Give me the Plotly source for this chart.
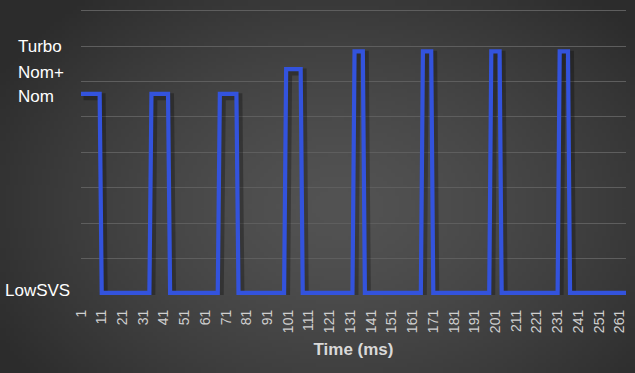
import base64, struct, zlib
import numpy as np
import plotly.graph_objects as go

# ---- data -------------------------------------------------------------
LOW, NOM, NOMP, TURBO = 0.04, 5.65, 6.35, 6.85
level_names = ["Turbo", "Nom+", "Nom", "LowSVS"]

# (first ms, last ms, level) segments of the step signal
segments = [
    (1, 10, NOM), (11, 34, LOW), (35, 43, NOM), (44, 67, LOW),
    (68, 76, NOM), (77, 99, LOW), (100, 107, NOMP), (108, 132, LOW),
    (133, 137, TURBO), (138, 165, LOW), (166, 170, TURBO), (171, 198, LOW),
    (199, 203, TURBO), (204, 231, LOW), (232, 236, TURBO), (237, 264, LOW),
]
time_ms = []
level = []
for a, b, v in segments:
    for t in range(a, b + 1):
        time_ms.append(t)
        level.append(v)
tick_vals = list(range(1, 262, 10))
tick_text = [str(v) for v in tick_vals]

# ---- background gradient png ----------------------------------------
W, H = 635, 373
L, R, T, B = 81, 9.4, 7.0, 78.0
pw, ph = W - L - R, H - T - B

gw, gh = 160, 94
yy, xx = np.mgrid[0:gh, 0:gw]
cx, cy = gw * 0.53, gh * 0.55
d = np.sqrt(((xx - cx) / (gw * 0.62)) ** 2 + ((yy - cy) / (gh * 0.75)) ** 2)
d = np.clip(d, 0, 1)
val = (0x53 - (0x53 - 0x2c) * d ** 1.4).astype(np.uint8)
img = np.stack([val, val, val], axis=-1)
raw = b"".join(b"\x00" + img[r].tobytes() for r in range(gh))

def chunk(tag, data):
    c = struct.pack(">I", len(data)) + tag + data
    return c + struct.pack(">I", zlib.crc32(tag + data) & 0xffffffff)

png = b"\x89PNG\r\n\x1a\n" + chunk(b"IHDR", struct.pack(">IIBBBBB", gw, gh, 8, 2, 0, 0, 0)) \
    + chunk(b"IDAT", zlib.compress(raw, 9)) + chunk(b"IEND", b"")
uri = "data:image/png;base64," + base64.b64encode(png).decode()

# ---- figure -----------------------------------------------------------
fig = go.Figure()
fig.add_trace(go.Scatter(
    x=[t + 1.2 for t in time_ms], y=[v - 0.08 for v in level], mode="lines",
    line=dict(color="rgba(0,0,0,0.28)", width=7), hoverinfo="skip", cliponaxis=False,
))
fig.add_trace(go.Scatter(
    x=time_ms, y=level, mode="lines",
    line=dict(color="#3353DD", width=4.2), cliponaxis=False,
))

fig.add_layout_image(dict(
    source=uri, xref="paper", yref="paper",
    x=-L / pw, y=1 + T / ph, sizex=W / pw, sizey=H / ph,
    xanchor="left", yanchor="top", sizing="stretch", layer="below",
))

label_pos = {"Turbo": (16, 47), "Nom+": (16, 72), "Nom": (16, 96), "LowSVS": (3, 290)}
for name in level_names:
    px, py = label_pos[name]
    fig.add_annotation(
        text=name, xref="paper", yref="paper",
        x=(px - L) / pw, y=1 - (py - T) / ph,
        xanchor="left", yanchor="middle", showarrow=False,
        font=dict(family="Liberation Sans, Arial", size=17, color="#ffffff"),
    )

fig.update_layout(
    width=W, height=H,
    margin=dict(l=L, r=R, t=T, b=B),
    paper_bgcolor="#3c3c3c", plot_bgcolor="rgba(0,0,0,0)",
    showlegend=False,
    font=dict(family="Liberation Sans, Arial", color="#d0d0d0"),
)
fig.update_xaxes(
    range=[1, 264], tickmode="array", tickvals=tick_vals, ticktext=tick_text,
    tickangle=-90, tickfont=dict(size=14, color="#cfcfcf"),
    showgrid=False, zeroline=False, showline=False, ticks="",
    ticklabelstandoff=11,
    title=dict(text="<b>Time (ms)</b>", font=dict(size=17, color="#d9d9d9"), standoff=10),
)
fig.update_yaxes(
    range=[-0.02, 8.1], dtick=1, showticklabels=False, showgrid=True,
    gridcolor="#5e5e5e", gridwidth=1.2, zeroline=False, showline=False, ticks="",
)

fig.write_html("out.html")
